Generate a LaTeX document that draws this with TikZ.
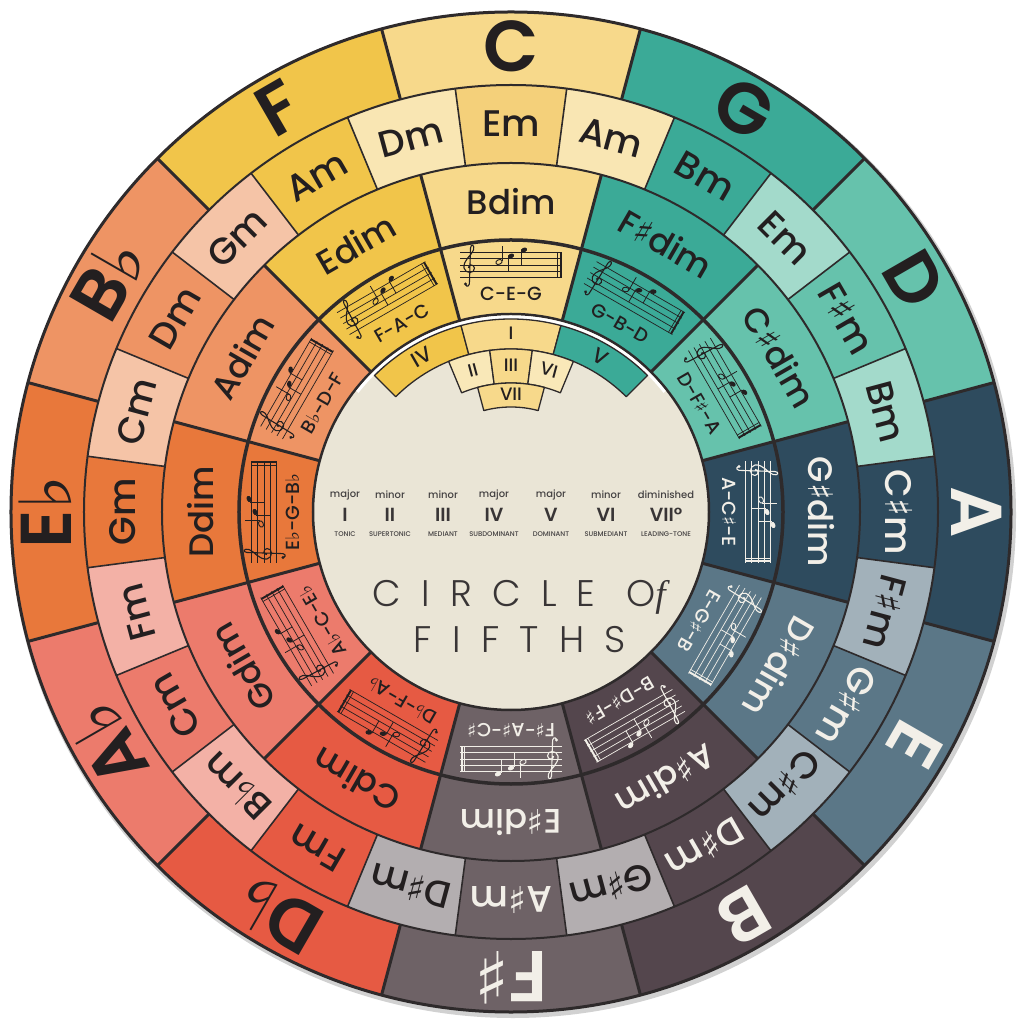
\documentclass[tikz,border=0pt]{standalone}
\usepackage{fontspec}
\setmainfont{Poppins}
\newfontfamily\popm{Poppins Medium}
\newfontfamily\pops{Poppins SemiBold}
\newfontfamily\popl{Poppins Light}[LetterSpace=55]
\newfontfamily\serit{Liberation Serif}
\newfontfamily\dv{DejaVu Sans}
\newcommand\shp{{\dv ♯}}
\newcommand\flt{{\dv ♭}}
\definecolor{bord}{HTML}{2E2A2B}
\definecolor{dk}{HTML}{231F20}
\definecolor{lt}{HTML}{F2EFE8}
\definecolor{cream}{HTML}{EAE5D6}
\definecolor{cC}{HTML}{F7D98B}
\definecolor{cCm}{HTML}{F4D07A}
\definecolor{cG}{HTML}{3BAA97}
\definecolor{cD}{HTML}{66C2AC}
\definecolor{cA}{HTML}{2E4B5E}
\definecolor{cE}{HTML}{5B7787}
\definecolor{cB}{HTML}{54464D}
\definecolor{cFs}{HTML}{6E6266}
\definecolor{cDb}{HTML}{E65A43}
\definecolor{cAb}{HTML}{EC7B6C}
\definecolor{cEb}{HTML}{E8783B}
\definecolor{cBb}{HTML}{EE9464}
\definecolor{cF}{HTML}{F1C54A}
\definecolor{lC}{HTML}{F9E6B3}
\definecolor{lD}{HTML}{A3DACB}
\definecolor{lE}{HTML}{A2B1BA}
\definecolor{lFs}{HTML}{B3AEB0}
\definecolor{lAb}{HTML}{F3B1A6}
\definecolor{lBb}{HTML}{F5C4A7}
\definecolor{nPale}{HTML}{F9E8B8}
\newcommand\seg[5]{\fill[#5] (#1:#3pt) arc[start angle=#1,end angle=#2,radius=#3pt] -- (#2:#4pt) arc[start angle=#2,end angle=#1,radius=#4pt] -- cycle;}
\newcommand\segd[5]{\filldraw[fill=#5,draw=bord,line width=1.3] (#1:#3pt) arc[start angle=#1,end angle=#2,radius=#3pt] -- (#2:#4pt) arc[start angle=#2,end angle=#1,radius=#4pt] -- cycle;}
\newcommand\staff[1]{%
  \foreach \yy in {-12.6,-6.3,0,6.3,12.6} \draw[#1,line width=0.7] (-51,\yy) -- (51,\yy);
  \draw[#1,line width=0.7] (46.5,-12.6) -- (46.5,12.6);
  \draw[#1,line width=2] (49.5,-12.6) -- (49.5,12.6);
  \draw[#1,line width=1.1] (-45.5,-19.5) .. controls (-44,-23) and (-41,-21) .. (-41.5,-16) -- (-40.5,17) .. controls (-40,22) and (-36,20) .. (-37.5,15) .. controls (-39,10) and (-48,5) .. (-47,-3) .. controls (-46,-9) and (-36,-9) .. (-36.5,-3) .. controls (-37,1) and (-43,1) .. (-42.5,-3);
  \fill[#1] (-45.5,-19) circle[radius=1.6];
  \draw[#1,line width=0.9,shift={(-12,3)},rotate=25] (0,0) ellipse[x radius=3.3,y radius=2.3];
  \draw[#1,line width=0.8] (-8.9,4) -- (-8.9,19);
  \fill[#1,shift={(0,9)},rotate=25] (0,0) ellipse[x radius=3.3,y radius=2.3];
  \draw[#1,line width=0.8] (-3.1,8) -- (-3.1,-6);
  \fill[#1,shift={(13,15)},rotate=25] (0,0) ellipse[x radius=3.3,y radius=2.3];
  \draw[#1,line width=0.8] (9.9,14) -- (9.9,0);
}
\tikzset{
  lbl/.style={inner sep=0pt,font=\popm},
  keyt/.style={lbl,font={\pops\fontsize{72}{72}\selectfont}},
  mint/.style={lbl,font={\popm\fontsize{37}{37}\selectfont}},
  dimt/.style={lbl,font={\popm\fontsize{34}{34}\selectfont}},
  trit/.style={lbl,font={\popm\fontsize{19}{19}\selectfont}},
  numt/.style={lbl,text=dk,font={\popm\fontsize{18}{18}\selectfont}},
  qual/.style={inner sep=0pt,text=dk!85,font={\popm\fontsize{10}{10}\selectfont}},
  rom/.style={inner sep=0pt,text=dk!90,font={\pops\fontsize{19}{19}\selectfont}},
  func/.style={inner sep=0pt,text=dk!85,font={\popm\fontsize{6.8}{7}\selectfont}},
  titlet/.style={inner sep=0pt,text=dk!90,font={\popl\fontsize{37}{37}\selectfont}}
}
\begin{document}
\begin{tikzpicture}[x=1pt,y=1pt,line join=round]
\useasboundingbox (-511,-512) rectangle (513,512);
\fill[white] (-511,-512) rectangle (513,512);
\fill[black,opacity=0.18] (2,-3) circle[radius=503pt];
\foreach \a/\k/\c/\mc/\t/\dm/\tri/\mi/\lm/\lc [count=\i] in {
90/C/cC/cCm/dk/Bdim/C-E-G/Em/Am/lC,
60/G/cG/cG/dk/F\shp dim/G-B-D/Bm/Em/lD,
30/D/cD/cD/dk/C\shp dim/D-F\shp-A/F\shp m/Bm/lD,
0/A/cA/cA/lt/G\shp dim/A-C\shp-E/C\shp m/F\shp m/lE,
-30/E/cE/cE/lt/D\shp dim/E-G\shp-B/G\shp m/C\shp m/lE,
-60/B/cB/cB/lt/A\shp dim/B-D\shp-F\shp/D\shp m/G\shp m/lFs,
-90/F\shp/cFs/cFs/lt/E\shp dim/F\shp-A\shp-C\shp/A\shp m/D\shp m/lFs,
-120/D\flt/cDb/cDb/dk/Cdim/D\flt-F-A\flt/Fm/B\flt m/lAb,
-150/A\flt/cAb/cAb/dk/Gdim/A\flt-C-E\flt/Cm/Fm/lAb,
180/E\flt/cEb/cEb/dk/Ddim/E\flt-G-B\flt/Gm/Cm/lBb,
150/B\flt/cBb/cBb/dk/Adim/B\flt-D-F/Dm/Gm/lBb,
120/F/cF/cF/dk/Edim/F-A-C/Am/Dm/lC}{
  \pgfmathsetmacro\aa{\a-15}\pgfmathsetmacro\ab{\a+15}
  \pgfmathsetmacro\ma{\a-7.5}\pgfmathsetmacro\mb{\a+7.5}\pgfmathsetmacro\la{\a-22.5}
  \pgfmathsetmacro\lcen{\a-15}
  \seg{\aa}{\ab}{427}{500}{\c}
  \seg{\aa}{\ab}{198}{349}{\c}
  \seg{\ma}{\mb}{349}{427}{\mc}
  \seg{\la}{\ma}{349}{427}{\lc}
  \node[keyt,text=\t,rotate=\a-90] (key\i) at (\a:466pt) {\k};
  \node[mint,text=\t,rotate=\a-90] (mid\i) at (\a:388pt) {\mi};
  \node[mint,text=dk,rotate=\lcen-90] (rel\i) at (\lcen:388pt) {\lm};
  \node[dimt,text=\t,rotate=\a-90] (dim\i) at (\a:310pt) {\dm};
  \node[trit,text=\t,rotate=\a-90] (tri\i) at (\a:218pt) {\tri};
  \begin{scope}[shift={(\a:247pt)},rotate=\a-90]
    \staff{\t}
  \end{scope}
}
% borders
\foreach \b in {15,45,...,345}{
  \draw[bord,line width=3] (\b:427pt) -- (\b:500pt);
  \draw[bord,line width=3] (\b:198pt) -- (\b:349pt);
}
\foreach \b in {7.5,22.5,...,352.5}
  \draw[bord,line width=1.6] (\b:349pt) -- (\b:427pt);
\draw[bord,line width=2] (0,0) circle[radius=427pt];
\draw[bord,line width=2] (0,0) circle[radius=349pt];
\draw[bord,line width=3.5] (0,0) circle[radius=272pt];
\draw[bord,line width=3] (0,0) circle[radius=500pt];
% centre disc
\filldraw[fill=cream,draw=bord,line width=2.5] (0,0) circle[radius=198pt];
\draw[white,line width=3] (38:195pt) arc[start angle=38,end angle=142,radius=195pt];
% numeral band
\segd{105}{135}{163}{193}{cF}
\segd{75}{105}{163}{193}{cC}
\segd{45}{75}{163}{193}{cG}
\segd{97.5}{112.5}{129}{163}{nPale}
\segd{82.5}{97.5}{129}{163}{cC}
\segd{67.5}{82.5}{129}{163}{nPale}
\segd{75}{105}{105}{129}{cC}
\node[numt,rotate=30,font={\popm\fontsize{21}{21}\selectfont}] (nIV) at (120:179pt) {IV};
\node[numt] (nI) at (90:179pt) {I};
\node[numt,rotate=-30,font={\popm\fontsize{21}{21}\selectfont}] (nV) at (60:179pt) {V};
\node[numt,rotate=15] (nII) at (105:147pt) {II};
\node[numt] (nIII) at (90:147pt) {III};
\node[numt,rotate=-15] (nVI) at (75:147pt) {VI};
\node[numt] (nVII) at (90:118pt) {VII};
% degree table
\foreach \x/\q/\r/\f [count=\j] in {-166/major/I/TONIC,-121/minor/II/SUPERTONIC,-68/minor/III/MEDIANT,-17/major/IV/SUBDOMINANT,40/major/V/DOMINANT,95/minor/VI/SUBMEDIANT,155/diminished/VII°/LEADING-TONE}{
  \node[qual] (q\j) at (\x,17) {\q};
  \node[rom] (r\j) at (\x,-3) {\r};
  \node[func] (f\j) at (\x,-22) {\f};
}
\node[titlet] (title1) at (8,-85) {CIRCLE O{\serit\itshape f}};
\node[titlet] (title2) at (9,-128) {FIFTHS};
\end{tikzpicture}
\end{document}
